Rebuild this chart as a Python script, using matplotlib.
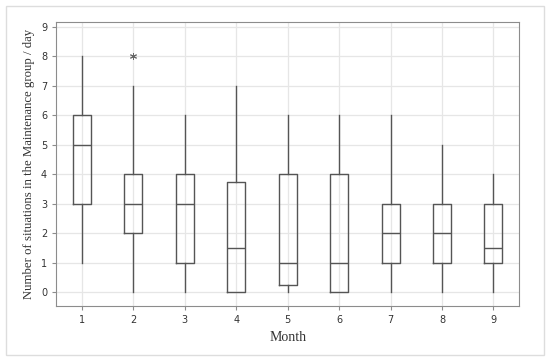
import matplotlib.pyplot as plt
from matplotlib.patches import Rectangle

months = [1, 2, 3, 4, 5, 6, 7, 8, 9]
whislo = [1, 0, 0, 0, 0, 0, 0, 0, 0]
q1 = [3, 2, 1, 0, 0.25, 0, 1, 1, 1]
med = [5, 3, 3, 1.5, 1, 1, 2, 2, 1.5]
q3 = [6, 4, 4, 3.75, 4, 4, 3, 3, 3]
whishi = [8, 7, 6, 7, 6, 6, 6, 5, 4]
fliers = [[], [8], [], [], [], [], [], [], []]

stats = []
for i in range(len(months)):
    stats.append(dict(whislo=whislo[i], q1=q1[i], med=med[i], q3=q3[i],
                      whishi=whishi[i], fliers=fliers[i], label=str(months[i])))

fig = plt.figure(figsize=(5.5, 3.6), dpi=100)
ax = fig.add_axes([0.102, 0.15, 0.842, 0.789])

lc = '#555555'
ax.bxp(stats, positions=months, widths=0.35, showcaps=False,
       boxprops=dict(color=lc, linewidth=1),
       whiskerprops=dict(color=lc, linewidth=1),
       medianprops=dict(color=lc, linewidth=1),
       flierprops=dict(marker=(6, 2, 0), markersize=5, markeredgecolor='#666666',
                       markeredgewidth=0.7, linestyle='none'))

ax.set_xlim(0.5, 9.5)
ax.set_ylim(-0.47, 9.17)
ax.set_yticks(range(10))
ax.set_axisbelow(True)
ax.grid(True, color='#e6e6e6', linewidth=0.9)
for s in ax.spines.values():
    s.set_color('#8c8c8c')
ax.tick_params(labelsize=7, colors='#333333', length=3, width=0.8)
ax.tick_params(axis='both', color='#8c8c8c')

ax.set_xlabel('Month', family='Liberation Serif', fontsize=10, color='#333333')
ax.set_ylabel('Number of situations in the Maintenance group / day',
              family='Liberation Serif', fontsize=9.2, color='#333333')

fig.patches.append(Rectangle((6 / 550, 5 / 360), 538 / 550, 349 / 360,
                             transform=fig.transFigure, fill=False,
                             edgecolor='#dddddd', linewidth=1))

fig.savefig('out.png', dpi=100)
